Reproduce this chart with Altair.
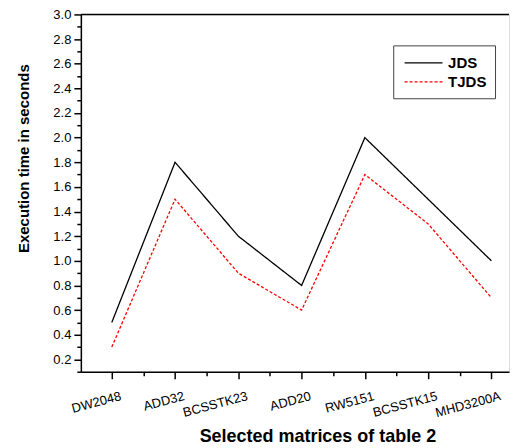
import altair as alt
import pandas as pd

categories = ["DW2048", "ADD32", "BCSSTK23", "ADD20", "RW5151", "BCSSTK15", "MHD3200A"]
jds = [0.5, 1.8, 1.2, 0.8, 2.0, 1.5, 1.0]
tjds = [0.3, 1.5, 0.9, 0.6, 1.7, 1.3, 0.7]
series_names = ["JDS", "TJDS"]
y_ticks = [round(0.1 * k, 1) for k in range(1, 31)]
x_ticks = [k / 2 for k in range(0, 13)]

rows = []
for i, c in enumerate(categories):
    rows.append({"i": i, "cat": c, "series": "JDS", "t": jds[i]})
for i, c in enumerate(categories):
    rows.append({"i": i, "cat": c, "series": "TJDS", "t": tjds[i]})
df = pd.DataFrame(rows)

FONT = "Liberation Sans"
names_js = "[" + ",".join("'%s'" % c for c in categories) + "]"

x_axis = alt.Axis(
    values=x_ticks,
    labelExpr="datum.value % 1 === 0 ? " + names_js + "[datum.value] : ''",
    labelAngle=345,
    labelAlign="right",
    labelBaseline="top",
    labelOffset=7,
    labelPadding=11,
    labelFont=FONT,
    labelFontSize=13,
    labelColor="black",
    tickSize={"condition": {"test": "datum.value % 1 === 0", "value": 7}, "value": 4},
    tickColor="black",
    tickWidth=1.5,
    domainColor="black",
    domainWidth=1.5,
    grid=False,
    title="Selected matrices of table 2",
    titleFont=FONT,
    titleFontSize=18,
    titleFontWeight="bold",
    titleColor="black",
    titleX=237,
    titleY=70,
    titleBaseline="alphabetic",
    labelOverlap=False,
)

y_axis = alt.Axis(
    values=y_ticks,
    labelExpr="round(datum.value*10) % 2 === 0 ? format(datum.value, '.1f') : ''",
    labelFont=FONT,
    labelFontSize=13,
    labelColor="black",
    labelPadding=3,
    tickSize={"condition": {"test": "round(datum.value*10) % 2 === 0", "value": 7}, "value": 4},
    tickColor="black",
    tickWidth=1.5,
    domainColor="black",
    domainWidth=1.5,
    grid=False,
    title="Execution time in seconds",
    titleFont=FONT,
    titleFontSize=15,
    titleFontWeight="bold",
    titleColor="black",
    titlePadding=21,
    titleY=144,
    labelOverlap=False,
)

legend = alt.Legend(
    title=None,
    orient="none",
    legendX=313,
    legendY=31,
    strokeColor="#444444",
    padding=8,
    rowPadding=1,
    symbolType="M-0.72,0L3.75,0",
    symbolSize=289,
    symbolStrokeWidth=1.2,
    labelFont=FONT,
    labelFontSize=15,
    labelFontWeight="bold",
    labelColor="black",
    labelOffset=28,
)

lines = alt.Chart(df).mark_line(strokeWidth=1.3).encode(
    x=alt.X("i:Q", scale=alt.Scale(domain=[-0.489, 6.278], nice=False, zero=False), axis=x_axis),
    y=alt.Y("t:Q", scale=alt.Scale(domain=[0.1, 3.0], nice=False, zero=False), axis=y_axis),
    color=alt.Color(
        "series:N",
        scale=alt.Scale(domain=series_names, range=["black", "red"]),
        legend=legend,
    ),
    strokeDash=alt.StrokeDash(
        "series:N",
        scale=alt.Scale(domain=series_names, range=[[1, 0], [3, 2]]),
        legend=legend,
    ),
    order="i:Q",
)

top = alt.Chart(pd.DataFrame({"y": [3.0]})).mark_rule(color="black", strokeWidth=1.5).encode(
    y=alt.value(0)
)

chart = alt.layer(lines, top).properties(
    width=429,
    height=358,
    padding={"left": 8, "top": 0, "right": 0, "bottom": 0},
).configure_view(stroke=None).configure(background="white")

chart.save("out.html", embed_options={"renderer": "svg", "actions": False})
